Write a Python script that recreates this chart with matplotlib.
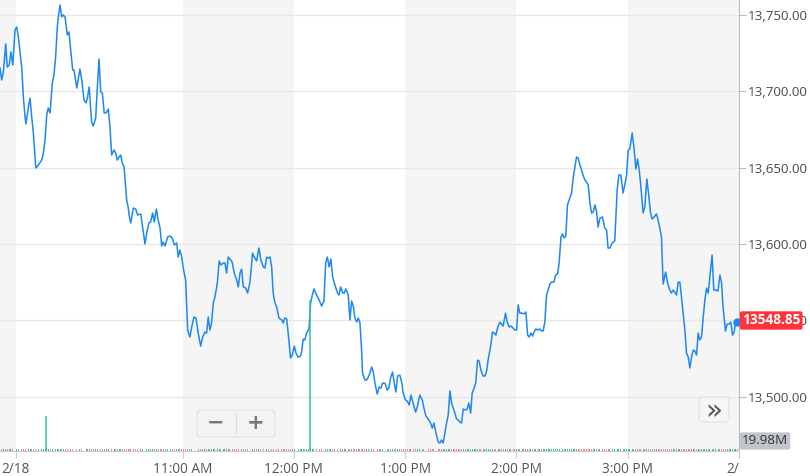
import matplotlib.pyplot as plt
from matplotlib.patches import FancyBboxPatch

# minutes after 9:30 and index level
minutes = [
    -8.5, -7.6, -6.7, -5.4, -4.6, -3.5, -2.6, -1.6, -0.4, 0.5, 1.4, 3.2, 4.1, 5.0, 5.5,
    6.8, 7.7, 8.6, 9.5, 10.8, 12.2, 14.0, 14.9, 15.8, 16.7, 17.5, 18.5, 19.7, 20.6, 21.5,
    22.4, 22.9, 23.9, 24.8, 25.6, 26.6, 27.8, 28.7, 29.6, 30.7, 31.4, 32.9, 34.6, 35.6,
    36.8, 37.9, 38.6, 39.6, 40.9, 41.8, 43.1, 44.0, 44.9, 45.8, 46.7, 47.7, 48.7, 49.9,
    50.8, 51.7, 53.0, 53.9, 54.7, 55.7, 56.6, 57.4, 58.4, 59.8, 60.7, 61.1, 62.0, 63.4,
    64.7, 65.7, 67.4, 68.4, 69.7, 70.6, 71.8, 72.7, 73.8, 74.7, 75.8, 76.8, 77.8, 78.7,
    79.5, 80.5, 81.9, 83.2, 84.4, 85.5, 86.8, 87.6, 88.5, 89.5, 90.3, 91.6, 92.7, 93.9,
    94.9, 96.1, 97.2, 98.4, 99.7, 100.8, 102.0, 102.9, 103.8, 104.7, 105.6, 106.5, 107.4,
    108.7, 109.7, 110.6, 111.9, 112.8, 113.7, 114.6, 115.5, 116.7, 117.8, 119.1, 120.0,
    120.9, 121.8, 122.7, 124.0, 125.0, 126.3, 127.7, 128.6, 129.9, 131.1, 132.2, 133.5,
    134.4, 135.3, 136.1, 137.1, 138.0, 138.8, 139.8, 140.7, 141.9, 143.4, 144.2, 145.1,
    146.1, 146.9, 148.2, 149.1, 150.2, 151.1, 152.3, 153.6, 154.1, 155.0, 155.9, 156.8,
    158.1, 159.0, 159.9, 160.8, 162.2, 163.6, 164.9, 166.2, 167.1, 168.0, 169.0, 169.9,
    170.9, 172.1, 173.3, 174.3, 175.2, 176.3, 177.1, 178.0, 179.3, 180.2, 181.1, 182.0,
    182.9, 183.8, 184.7, 185.6, 186.5, 187.0, 188.3, 189.2, 190.1, 191.0, 191.9, 192.8,
    193.7, 194.9, 196.0, 196.9, 197.8, 199.1, 200.3, 201.2, 202.1, 203.2, 204.1, 205.0,
    205.9, 207.1, 208.1, 208.9, 210.2, 211.1, 212.2, 213.1, 214.3, 215.6, 216.5, 217.9,
    219.2, 220.1, 221.2, 222.4, 223.7, 224.6, 225.5, 226.6, 227.8, 228.7, 229.6, 230.5,
    231.4, 232.3, 233.2, 234.1, 235.0, 235.9, 236.8, 237.7, 238.6, 239.5, 240.4, 241.3,
    242.6, 243.4, 244.3, 245.3, 246.1, 247.2, 248.1, 249.0, 249.9, 250.8, 252.0, 253.0,
    253.9, 254.7, 256.0, 257.1, 258.0, 258.9, 260.1, 261.1, 262.0, 262.8, 264.1, 265.0,
    266.1, 267.0, 268.2, 269.1, 270.1, 270.9, 271.8, 273.1, 274.0, 275.1, 276.0, 276.8,
    277.8, 278.7, 279.5, 280.5, 281.7, 282.6, 283.5, 284.4, 285.3, 286.2, 287.1, 288.0,
    288.9, 290.2, 291.1, 292.2, 293.0, 294.0, 294.9, 295.7, 296.6, 297.5, 298.8, 299.7,
    300.6, 301.5, 302.4, 303.3, 304.2, 305.1, 305.9, 306.9, 307.8, 308.7, 309.6, 310.5,
    311.4, 312.3, 313.2, 314.0, 315.0, 316.4, 317.6, 318.6, 319.4, 320.4, 321.6, 323.0,
    324.3, 325.2, 326.3, 327.5, 328.4, 329.4, 330.2, 331.2, 332.4, 333.3, 334.4, 335.3,
    336.2, 337.1, 338.3, 339.2, 340.3, 341.2, 342.3, 343.2, 344.2, 345.5, 346.4, 347.3,
    348.2, 349.1, 350.4, 351.5, 352.7, 353.6, 354.5, 355.4, 356.3, 357.2, 358.1, 359.0,
    359.9, 360.8, 361.7, 362.6, 363.5, 364.4, 365.3, 366.2, 367.1, 368.0, 368.9, 369.8,
    370.7, 371.6, 372.5, 373.4, 374.3, 375.5, 376.4, 377.5, 378.7, 379.7, 380.6, 381.4,
    382.7, 383.6, 384.7, 385.6, 386.5, 387.4, 388.3, 389.0,
]
prices = [
    13715.3, 13707.4, 13712.7, 13731.0, 13715.9, 13717.3, 13725.8, 13717.3, 13740.2,
    13742.1, 13735.6, 13715.9, 13696.3, 13683.2, 13678.6, 13689.7, 13695.6, 13683.2,
    13672.7, 13649.8, 13651.8, 13655.0, 13659.6, 13668.1, 13684.5, 13689.1, 13685.8,
    13705.5, 13710.7, 13722.5, 13742.1, 13748.0, 13756.5, 13748.7, 13750.0, 13748.7,
    13736.9, 13738.9, 13727.1, 13714.0, 13714.0, 13702.2, 13714.6, 13707.4, 13694.3,
    13692.4, 13695.6, 13702.8, 13679.9, 13677.3, 13682.5, 13702.8, 13721.2, 13699.6,
    13698.9, 13685.8, 13685.8, 13688.4, 13676.6, 13658.3, 13661.6, 13659.6, 13655.0,
    13657.0, 13658.3, 13653.1, 13650.4, 13628.8, 13623.6, 13619.0, 13613.8, 13623.6,
    13622.9, 13619.0, 13619.7, 13611.2, 13600.0, 13607.2, 13613.8, 13614.4, 13620.3,
    13614.4, 13622.9, 13615.7, 13610.5, 13598.7, 13601.3, 13598.7, 13604.6, 13605.3,
    13604.0, 13599.4, 13600.7, 13591.5, 13596.1, 13591.5, 13584.3, 13576.5, 13543.7,
    13539.1, 13545.7, 13552.2, 13551.6, 13541.7, 13533.2, 13539.1, 13542.4, 13541.7,
    13552.2, 13543.7, 13548.3, 13561.4, 13565.3, 13574.5, 13588.9, 13586.3, 13587.6,
    13587.6, 13581.0, 13591.5, 13590.2, 13588.2, 13581.0, 13576.5, 13571.9, 13581.0,
    13583.6, 13571.9, 13571.2, 13567.9, 13575.1, 13594.1, 13591.5, 13588.9, 13597.4,
    13589.5, 13585.0, 13584.3, 13591.5, 13590.8, 13591.5, 13585.0, 13567.9, 13561.4,
    13558.8, 13551.6, 13550.3, 13548.3, 13551.6, 13550.9, 13541.7, 13525.4, 13527.3,
    13533.2, 13528.6, 13526.0, 13526.7, 13529.3, 13537.8, 13537.2, 13541.7, 13544.4,
    13561.4, 13566.6, 13570.6, 13566.6, 13563.4, 13559.4, 13562.7, 13587.6, 13591.5,
    13585.0, 13590.2, 13578.4, 13573.2, 13568.6, 13566.6, 13571.9, 13567.9, 13567.9,
    13570.6, 13566.6, 13550.3, 13562.7, 13559.4, 13551.6, 13549.0, 13551.6, 13548.3,
    13530.6, 13515.5, 13511.0, 13511.0, 13512.9, 13515.5, 13519.5, 13516.2, 13508.9,
    13501.8, 13506.4, 13505.7, 13508.9, 13508.9, 13504.4, 13505.7, 13512.3, 13516.2,
    13508.9, 13503.1, 13513.6, 13514.2, 13509.6, 13502.4, 13497.9, 13497.2, 13494.6,
    13501.1, 13495.9, 13490.0, 13493.3, 13501.1, 13497.9, 13492.6, 13487.4, 13485.4,
    13482.8, 13479.5, 13482.8, 13476.2, 13470.4, 13469.7, 13471.7, 13469.7, 13476.2,
    13482.8, 13488.0, 13503.8, 13495.9, 13492.6, 13489.3, 13485.4, 13484.8, 13483.5,
    13482.8, 13492.0, 13491.3, 13492.0, 13495.9, 13489.3, 13502.4, 13505.7, 13509.6,
    13524.0, 13523.4, 13517.5, 13513.6, 13513.6, 13516.8, 13524.1, 13532.6, 13542.4,
    13541.7, 13540.4, 13546.3, 13548.9, 13547.6, 13546.3, 13554.8, 13548.9, 13545.7,
    13546.3, 13545.0, 13543.7, 13543.7, 13560.1, 13554.8, 13554.8, 13554.2, 13555.5,
    13540.4, 13539.1, 13541.7, 13539.8, 13542.4, 13544.4, 13543.7, 13544.4, 13543.1,
    13543.1, 13548.9, 13566.6, 13569.9, 13573.8, 13575.1, 13575.1, 13579.7, 13580.4,
    13587.6, 13604.6, 13606.6, 13604.0, 13605.3, 13625.6, 13630.2, 13633.4, 13643.2,
    13650.4, 13657.0, 13656.3, 13651.8, 13648.5, 13645.2, 13641.9, 13640.6, 13638.7,
    13626.9, 13620.3, 13621.0, 13625.6, 13621.0, 13611.2, 13617.0, 13617.7, 13610.5,
    13609.2, 13597.4, 13597.4, 13600.7, 13602.0, 13635.4, 13645.2, 13645.2, 13633.4,
    13638.7, 13645.2, 13660.9, 13662.9, 13672.7, 13663.6, 13649.1, 13655.7, 13648.5,
    13637.4, 13620.3, 13624.3, 13642.6, 13633.4, 13620.3, 13616.4, 13617.7, 13619.7,
    13615.7, 13610.5, 13604.6, 13573.8, 13581.7, 13574.5, 13569.9, 13567.9, 13569.9,
    13568.6, 13566.6, 13575.1, 13575.1, 13565.3, 13554.8, 13543.7, 13528.6, 13526.0,
    13518.8, 13526.0, 13530.6, 13530.0, 13527.3, 13541.7, 13537.2, 13539.1, 13552.2,
    13563.4, 13571.2, 13567.9, 13578.4, 13592.8, 13569.9, 13569.9, 13569.3, 13579.7,
    13574.5, 13558.8, 13543.0, 13547.6, 13547.6, 13548.9, 13540.4, 13542.4, 13550.3,
    13548.85,
]
last_price = 13548.85

# volume (millions): two large prints, the rest is a thin ~20M baseline
spike_minutes = [16.3, 158.6]
spike_volume = [350, 1510]
base_volume = 20
last_volume = "19.98M"

tick_minutes = [0, 90, 150, 210, 270, 330, 390]
tick_labels = ["2/18", "11:00 AM", "12:00 PM", "1:00 PM", "2:00 PM", "3:00 PM", "2/"]
shaded = [(-30, 0), (90, 150), (210, 270), (330, 400)]
y_ticks = [13500, 13550, 13600, 13650, 13700, 13750]

W, H = 810, 476
fig = plt.figure(figsize=(W / 100, H / 100), dpi=100)
ax = fig.add_axes([0, 25 / H, 739 / W, 451 / H])
ax.set_xlim(-8.5, 389.9)
ax.set_ylim(13464.5, 13759.8)

for a, b in shaded:
    ax.axvspan(a, b, color="#f5f5f5", lw=0, zorder=0)
for v in y_ticks:
    ax.axhline(v, color="#e8e8e8", lw=1, zorder=1)

# volume on its own scale at the bottom
vax = ax.twinx()
vax.set_ylim(0, 4510)
vax.axis("off")
bar_colors = ["#f08a8a"] + [
    "#33c48d" if prices[i] >= prices[i - 1] else "#f08a8a" for i in range(1, len(prices))
]
vax.bar(minutes, [base_volume] * len(minutes), width=0.5, color=bar_colors, lw=0)
vax.vlines(spike_minutes, 0, spike_volume, color="#33c48d", lw=1.1)

ax.plot(minutes, prices, color="#1e88f0", lw=1.1, zorder=3)
ax.plot([minutes[-1]], [last_price], "o", color="#1e88f0", ms=5, zorder=4, clip_on=False)

for s in ["top", "left"]:
    ax.spines[s].set_visible(False)
ax.spines["right"].set_color("#bbbbbb")
ax.spines["bottom"].set_color("#cccccc")

ax.yaxis.tick_right()
ax.set_yticks(y_ticks)
ax.set_yticklabels([f"{v:,.2f}" for v in y_ticks])
ax.tick_params(axis="y", length=5, color="#bbbbbb", labelcolor="#4a4a4a",
               labelsize=9.6, pad=1.5)
ax.set_xticks(tick_minutes)
ax.set_xticklabels(tick_labels)
ax.tick_params(axis="x", length=5, color="#cccccc", labelcolor="#555555",
               labelsize=9.8, pad=3)
ax.get_xticklabels()[-1].set_ha("right")
for lbl in ax.get_xticklabels() + ax.get_yticklabels():
    lbl.set_family("Open Sans")

# last price tag (sits over the 13,550.00 label, as in the original)
fig.text(742 / W, (H - 320.5) / H, f"{last_price:.2f}", color="white", fontsize=9.8,
         fontweight="bold", family="Open Sans", va="center", ha="left",
         bbox=dict(boxstyle="round,pad=0.16,rounding_size=0.15", fc="#ff333a", ec="none"))
# last volume tag
fig.text(742 / W, (H - 441) / H, last_volume, color="#333333", fontsize=9.6,
         family="Open Sans", va="center", ha="left",
         bbox=dict(boxstyle="round,pad=0.16,rounding_size=0.15", fc="#c2c5cc", ec="none"))

# zoom buttons
btn = FancyBboxPatch((197 / W, (H - 437) / H), 78 / W, 27 / H,
                     boxstyle="round,pad=0,rounding_size=0.006", transform=fig.transFigure,
                     fc="#f3f3f3", ec="#e2e2e2", lw=0.8, zorder=5)
fig.patches.append(btn)
fig.add_artist(plt.Line2D([236 / W, 236 / W], [(H - 433) / H, (H - 413) / H],
                          transform=fig.transFigure, color="#dddddd", lw=0.8, zorder=6))
fig.text(216 / W, (H - 423) / H, "\u2212", fontsize=15, fontweight="bold", color="#777777",
         ha="center", va="center", zorder=7)
fig.text(256 / W, (H - 423) / H, "+", fontsize=15, fontweight="bold", color="#777777",
         ha="center", va="center", zorder=7)

btn2 = FancyBboxPatch((699 / W, (H - 422) / H), 30 / W, 25 / H,
                      boxstyle="round,pad=0,rounding_size=0.006", transform=fig.transFigure,
                      fc="#f6f6f6", ec="#e2e2e2", lw=0.8, zorder=5)
fig.patches.append(btn2)
fig.text(714 / W, (H - 411) / H, "\u00bb", fontsize=20, color="#555555",
         ha="center", va="center", zorder=7)

fig.savefig("out.png", dpi=100)
plt.close(fig)
